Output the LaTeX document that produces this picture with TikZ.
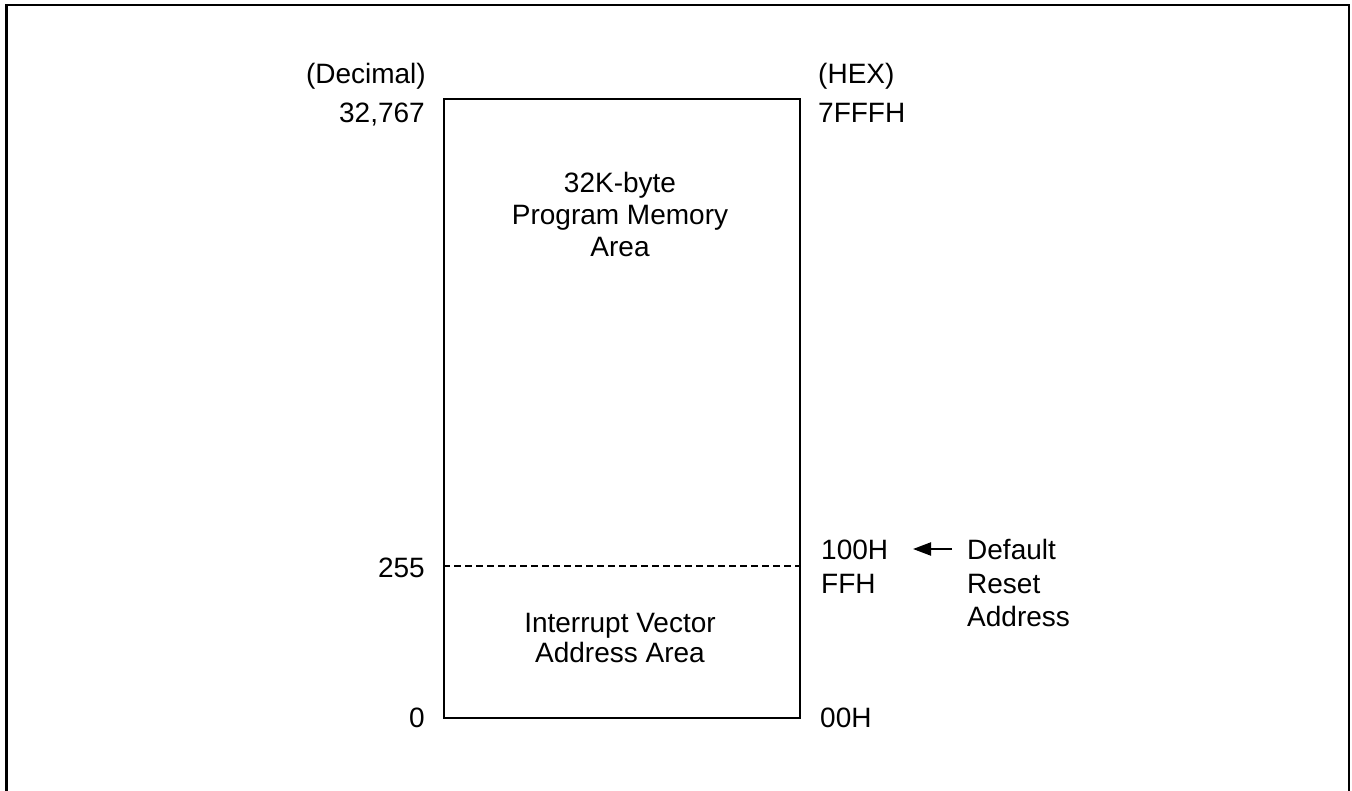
\documentclass[tikz,border=0pt]{standalone}
\usepackage{fontspec}
\setmainfont{Liberation Sans}
\usetikzlibrary{arrows.meta}
\begin{document}
\begin{tikzpicture}[x=1pt,y=-1pt,
  lbl/.style={inner sep=0pt,font=\fontsize{28}{28}\selectfont},
  frameline/.style={line width=2.2pt},
  boxline/.style={line width=2pt}]
\useasboundingbox (0,0) rectangle (1352,791);
% outer frame (open at the bottom)
\draw[frameline] (6.5,800) -- (6.5,5) -- (1349,5) -- (1349,800);
% memory box
\node[draw,boxline,minimum width=356pt,minimum height=619pt,inner sep=0pt,anchor=north west] (mem) at (443,98) {};
\coordinate (dl) at (443,566);
\coordinate (dr) at (799,566);
\draw[line width=2pt,dash pattern=on 6.5pt off 4.5pt] (dl) -- (dr);
% headers
\node[lbl,anchor=base east] (dec) at (426,84) {(Decimal)};
\node[lbl,anchor=base west] (hex) at (818,84) {(HEX)};
% left addresses
\node[lbl,anchor=base east] (d1) at (425,123) {32,767};
\node[lbl,anchor=base east] (d2) at (425,577) {255};
\node[lbl,anchor=base east] (d3) at (425,727) {0};
% right addresses
\node[lbl,anchor=base west] (h1) at (818,123) {7FFFH};
\node[lbl,anchor=base west] (h2) at (821,559) {100H};
\node[lbl,anchor=base west] (h3) at (821,593) {FFH};
\node[lbl,anchor=base west] (h4) at (820,727) {00H};
% box contents
\node[lbl,anchor=base] (p1) at (620,193) {32K-byte};
\node[lbl,anchor=base] (p2) at (620,225) {Program Memory};
\node[lbl,anchor=base] (p3) at (620,257) {Area};
\node[lbl,anchor=base] (i1) at (620,632) {Interrupt Vector};
\node[lbl,anchor=base] (i2) at (620,662) {Address Area};
% default reset address
\node[lbl,anchor=base west] (r1) at (967,559) {Default};
\node[lbl,anchor=base west] (r2) at (967,593) {Reset};
\node[lbl,anchor=base west] (r3) at (967,626) {Address};
\coordinate (at) at (952,549);
\coordinate (ah) at (913,549);
\draw[line width=2.2pt,-{Triangle[length=18pt,width=13pt]}] (at) -- (ah);
\end{tikzpicture}
\end{document}
